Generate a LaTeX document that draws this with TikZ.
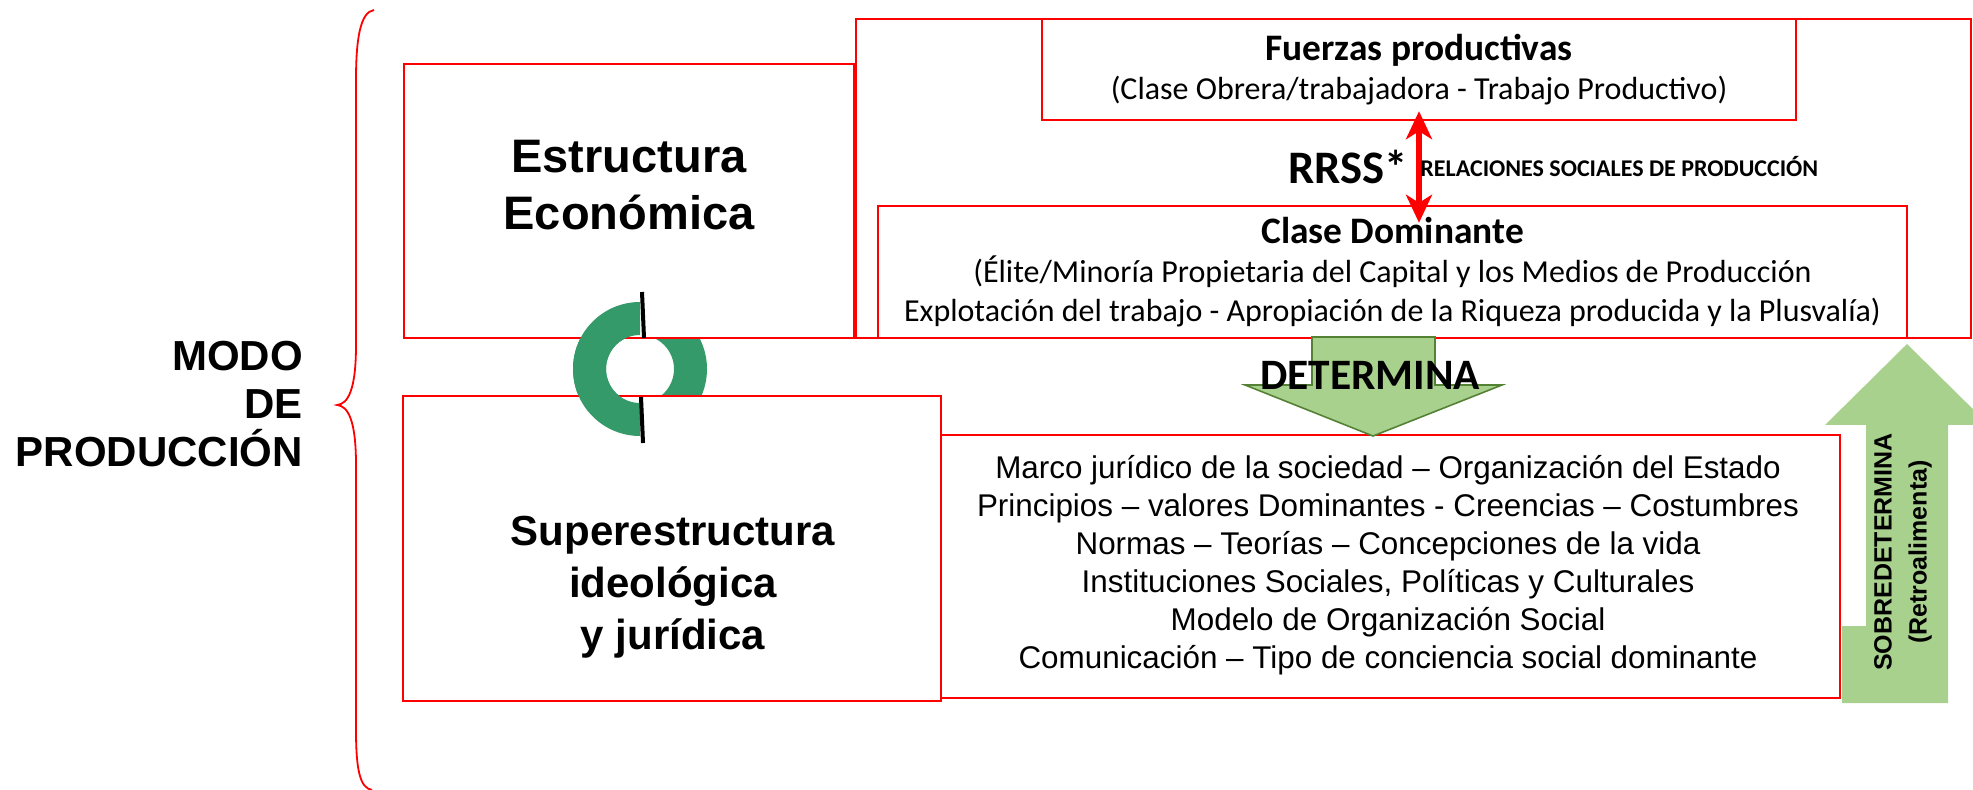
\documentclass[tikz,border=0pt]{standalone}
\usepackage{fontspec}
\setmainfont{Liberation Sans}
\newfontfamily\calib{Carlito}
\newcommand\headfont{\calib\bfseries\fontsize{18.7}{19.5}\selectfont}
\usetikzlibrary{arrows.meta}
\definecolor{redline}{RGB}{255,0,0}
\definecolor{ringgreen}{RGB}{53,154,105}
\definecolor{arrowfill}{RGB}{169,209,142}
\definecolor{arrowedge}{RGB}{84,130,53}

\begin{document}
\begin{tikzpicture}[x=0.5pt,y=-0.5pt,
  box/.style={draw=redline,line width=1.2pt,fill=white,inner sep=0pt,align=center},
  titletxt/.style={align=center,font=\bfseries\fontsize{23.5}{28.5}\selectfont},
  calibtxt/.style={font=\calib\fontsize{16}{19.5}\selectfont},
  blockarrow/.style={fill=arrowfill}]
\useasboundingbox (0,0) rectangle (1973,790);

% ring behind the boxes
\fill[ringgreen,even odd rule] (640,369) circle[radius=67] (640,369) circle[radius=34];

% boxes
\node[box,minimum width=557.5pt,minimum height=159.5pt] (econ) at (1413.5,178.5) {};
\node[box,calibtxt,minimum width=377pt,minimum height=50.5pt] (fuerzas) at (1419,69.5)
  {{\headfont Fuerzas productivas}\\(Clase Obrera/trabajadora - Trabajo Productivo)};
\node[box,calibtxt,minimum width=514.5pt,minimum height=66pt] (clase) at (1392.5,272)
  {{\headfont Clase Dominante}\\(Élite/Minoría Propietaria del Capital y los Medios de Producción\\
   Explotación del trabajo - Apropiación de la Riqueza producida y la Plusvalía)};
\node[box,minimum width=225pt,minimum height=137pt] (estr) at (629,201) {};
\node[titletxt] (estrtxt) at (629,185) {Estructura\\Económica};
\node[box,minimum width=269pt,minimum height=152.5pt] (super) at (672,548.5) {};
\node[align=center,font=\bfseries\fontsize{21}{26}\selectfont] (supertxt) at (673,587)
  {Superestructura\\ideológica\\y jurídica};
\node[box,minimum width=449.5pt,minimum height=131.5pt] (lista) at (1390.5,566.5) {};
\node[align=center,inner sep=0pt,font=\fontsize{15.7}{19}\selectfont] (listatxt) at (1388,565)
  {Marco jurídico de la sociedad – Organización del Estado\\
   Principios – valores Dominantes - Creencias – Costumbres\\
   Normas – Teorías – Concepciones de la vida\\
   Instituciones Sociales, Políticas y Culturales\\
   Modelo de Organización Social\\
   Comunicación – Tipo de conciencia social dominante};

% left half of the ring on top
\fill[ringgreen] (640,302) arc[start angle=270,end angle=90,radius=67] -- (640,403)
  arc[start angle=90,end angle=270,radius=34] -- cycle;
\draw[line width=2pt] (642,292) -- (644,338);
\draw[line width=2pt] (641,397) -- (643,443);

% relaciones sociales de produccion
\draw[redline,line width=3pt,{Stealth[length=14pt,width=13pt,inset=4pt]}-{Stealth[length=14pt,width=13pt,inset=4pt]}]
  ([yshift=5pt]fuerzas.south) -- ([yshift=-9pt]fuerzas.south |- clase.north);
\node[anchor=east,inner sep=0pt,font=\calib\bfseries\fontsize{23.3}{26}\selectfont] (rrss) at (1408,167) {RRSS*};
\node[anchor=west,inner sep=0pt,font=\calib\bfseries\fontsize{12}{14}\selectfont] (rrsstxt) at (1420,167)
  {RELACIONES SOCIALES DE PRODUCCIÓN};

% determina
\filldraw[blockarrow,draw=arrowedge,line width=0.8pt] (1312,337) -- (1435,337) -- (1435,385) -- (1502,385)
  -- (1373,436) -- (1245,385) -- (1312,385) -- cycle;
\node[font=\calib\bfseries\fontsize{21.7}{24}\selectfont] (determina) at (1370,375) {DETERMINA};

% sobredetermina
\fill[blockarrow] (1842,703) -- (1948,703) -- (1948,425) -- (1989,425) -- (1907,344) -- (1825,425)
  -- (1866,425) -- (1866,626) -- (1842,626) -- cycle;
\node[rotate=90,align=center,font=\bfseries\fontsize{12.5}{17.5}\selectfont] (sobre) at (1903,552)
  {SOBREDETERMINA\\(Retroalimenta)};

% brace and modo de produccion
\draw[redline,line width=0.9pt] (374,10) .. controls (360,12) and (356,40) .. (356,80) -- (356,345)
  .. controls (356,390) and (348,404) .. (337,405) .. controls (348,406) and (356,420) .. (356,465)
  -- (356,730) .. controls (356,770) and (360,788) .. (372,790);
\node[anchor=east,align=right,font=\bfseries\fontsize{21}{24}\selectfont] (modo) at (310,404)
  {MODO\\DE\\PRODUCCIÓN};
\end{tikzpicture}
\end{document}
